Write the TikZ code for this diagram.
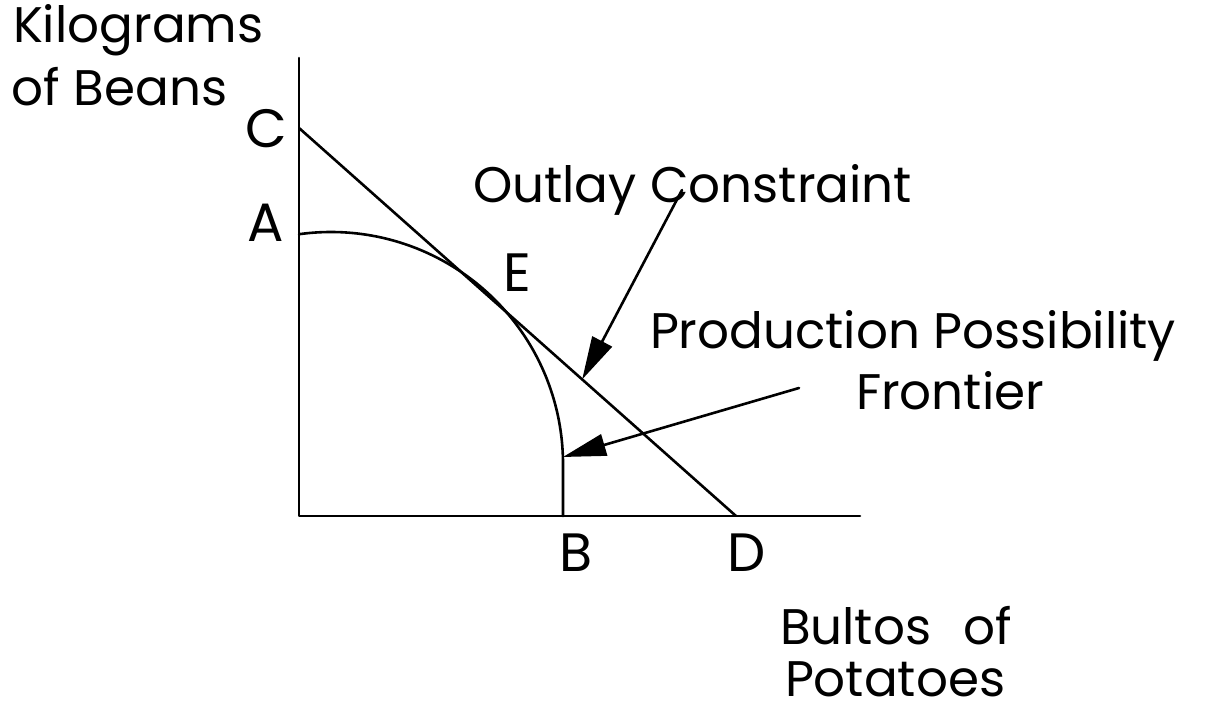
\documentclass[tikz,border=0pt]{standalone}
\usepackage{fontspec}
\setmainfont{Poppins}
\newfontfamily\widesp[WordSpace=2.4]{Poppins}
\usetikzlibrary{arrows.meta,calc}
\tikzset{
  lbl/.style={anchor=base west,inner sep=0pt,outer sep=0pt,text depth=0pt,font=\fontsize{50}{50}\selectfont},
  pt/.style={anchor=base west,inner sep=0pt,outer sep=0pt,text depth=0pt,font=\fontsize{54}{54}\selectfont},
  ln/.style={line width=2.6pt,line cap=round,line join=round},
  arr/.style={ln,-{Triangle[length=43pt,width=22pt]}}
}
\begin{document}
\begin{tikzpicture}[x=1pt,y=1pt]
\useasboundingbox (0,0) rectangle (1205,715);
\fill[white] (0,0) rectangle (1205,715);
% axes
\coordinate (O) at (299,199);
\coordinate (Ytop) at (299,657);
\coordinate (Xend) at (860,199);
\coordinate (C) at (299,587);
\coordinate (D) at (736,199);
\coordinate (Bpt) at (563,199);
\draw[ln] (Ytop) -- (O) -- (Xend);
% outlay constraint
\draw[ln] (C) -- (D);
% production possibility frontier
\coordinate (PPc) at (331,251);
\draw[ln] ($(PPc)+(97.9:232)$) arc[start angle=97.9,end angle=0,radius=232] -- (Bpt);
% arrows
\coordinate (a1s) at (682,525);
\coordinate (a1t) at ($(C)!0.648!(D)$);
\coordinate (a2s) at (799,327);
\coordinate (a2t) at (563,258);
\draw[arr] (a1s) -- (a1t);
\draw[arr] (a2s) -- (a2t);
% labels
\node[lbl] (ylab1) at (13,672) {Kilograms};
\node[lbl] (ylab2) at (12,609) {of Beans};
\node[pt] (lC) at (245,567) {C};
\node[pt] (lA) at (247,473) {A};
\node[pt] (lE) at (503,423) {E};
\node[pt] (lB) at (559,143) {B};
\node[pt] (lD) at (727,143) {D};
\node[lbl] (oc) at (473,512) {Outlay Constraint};
\node[lbl] (ppf1) at (650,366) {Production Possibility};
\node[lbl] (ppf2) at (856,305) {Frontier};
\node[lbl] (xlab1) at (780,70) {\widesp Bultos of};
\node[lbl] (xlab2) at (785,18) {Potatoes};
\end{tikzpicture}
\end{document}
